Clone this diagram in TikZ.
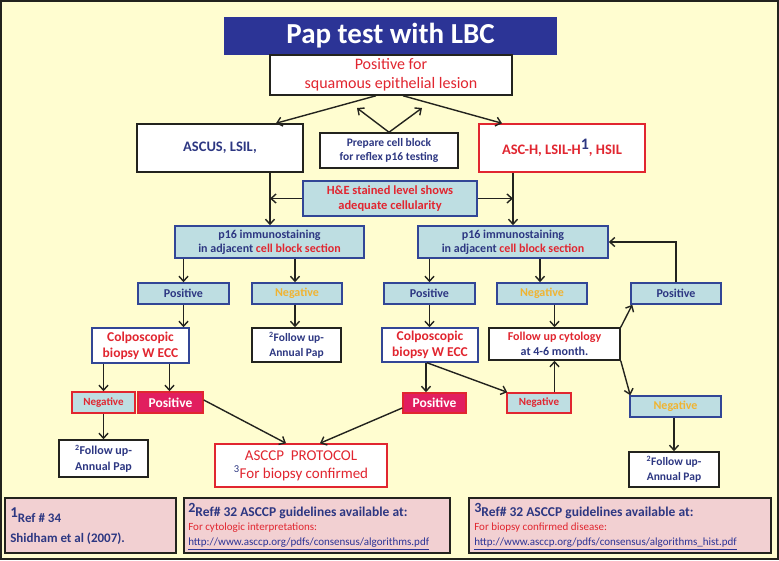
\documentclass[tikz,border=0pt]{standalone}
\usepackage{fontspec}
\setmainfont{Carlito}
\usetikzlibrary{arrows.meta,calc}
\definecolor{bg}{RGB}{255,253,208}
\definecolor{tblue}{RGB}{44,52,150}
\definecolor{dblue}{RGB}{45,55,130}
\definecolor{rred}{RGB}{225,38,48}
\definecolor{orng}{RGB}{240,180,50}
\definecolor{lblue}{RGB}{190,222,226}
\definecolor{bbord}{RGB}{50,70,150}
\definecolor{mag}{RGB}{225,30,95}
\definecolor{pinkf}{RGB}{242,208,210}
\definecolor{dline}{RGB}{35,35,30}
\newcommand\fsz[2]{\fontsize{#1}{#2}\selectfont}
\begin{document}
\begin{tikzpicture}[x=1pt,y=-1pt,
  bx/.style={rectangle, inner sep=1pt, align=center, line width=1.5pt},
  wbox/.style={bx, fill=white, draw=dline},
  rbox/.style={bx, fill=white, draw=rred},
  bwbox/.style={bx, fill=white, draw=bbord},
  lbox/.style={bx, fill=lblue, draw=bbord},
  lrbox/.style={bx, fill=lblue, draw=rred},
  mbox/.style={bx, fill=mag, draw=rred, text=white},
  refbox/.style={rectangle, fill=pinkf, draw=dline, line width=1.8pt, inner sep=0pt},
  arr/.style={draw=dline, line width=1.4pt, -{Straight Barb[length=5pt,width=9pt,line width=1.4pt]}},
  sz/.style 2 args={minimum width=#1, minimum height=#2}
]
\useasboundingbox (0,0) rectangle (779,560);
\draw[line width=2pt, draw=dline, fill=bg] (1,1) rectangle (778,559);

% title
\node[bx, fill=tblue, draw=none, sz={333}{38}, text=white, font=\bfseries\fsz{29}{30}] (title) at (390.5,36) {Pap test with LBC};
\node[wbox, sz={242}{40}, text=rred, font=\fsz{16}{19}] (pos) at (391,75) {Positive for\\squamous epithelial lesion};

\node[wbox, sz={166}{48}, text=dblue, font=\bfseries\fsz{14.5}{17}] (ascus) at (220,148) {ASCUS, LSIL,};
\node[wbox, sz={138}{35}, text=dblue, font=\bfseries\fsz{11.5}{14}] (prep) at (389,150.5) {Prepare cell block\\for reflex p16 testing};
\node[rbox, sz={166}{48}, text=rred, font=\bfseries\fsz{14.5}{17}] (asch) at (562,148) {ASC-H, LSIL-H\raisebox{5pt}{\color{dblue}\fsz{16}{16}1}, HSIL};
\node[lbox, sz={174}{35}, text=rred, font=\bfseries\fsz{12.5}{15}] (he) at (390,198.5) {H\&E stained level shows\\adequate cellularity};

\node[lbox, sz={189}{32}, text=dblue, font=\bfseries\fsz{12}{14}] (p16L) at (269.5,242) {p16 immunostaining\\in adjacent {\color{rred}cell block section}};
\node[lbox, sz={190}{32}, text=dblue, font=\bfseries\fsz{12}{14}] (p16R) at (513,242) {p16 immunostaining\\in adjacent {\color{rred}cell block section}};

\node[lbox, sz={91}{21}, text=dblue, font=\bfseries\fsz{12}{13}] (posL) at (183.5,293.5) {Positive};
\node[lbox, sz={90}{21}, text=orng, font=\bfseries\fsz{12}{13}] (negL) at (297,293.5) {Negative};
\node[lbox, sz={91}{21}, text=dblue, font=\bfseries\fsz{12}{13}] (posM) at (429.5,293.5) {Positive};
\node[lbox, sz={90}{21}, text=orng, font=\bfseries\fsz{12}{13}] (negM) at (542,293.5) {Negative};
\node[lbox, sz={90}{21}, text=dblue, font=\bfseries\fsz{12}{13}] (posR) at (676,293.5) {Positive};

\node[bwbox, sz={97}{35}, text=rred, font=\bfseries\fsz{13.5}{16}] (colpL) at (140.5,345.5) {Colposcopic\\biopsy W ECC};
\node[wbox, sz={89}{34}, text=dblue, font=\bfseries\fsz{11.5}{15}] (fuA) at (296.5,345) {\textsuperscript{2}Follow up-\\Annual Pap};
\node[bwbox, sz={96}{34}, text=rred, font=\bfseries\fsz{13.5}{16}] (colpM) at (430,345) {Colposcopic\\biopsy W ECC};
\node[wbox, sz={131}{32}, text=rred, font=\bfseries\fsz{12}{15}] (fuc) at (554.5,344) {Follow up cytology\\{\color{dblue}at 4-6 month.}};

\node[lrbox, sz={63}{21}, text=rred, font=\bfseries\fsz{11}{13}] (negC) at (103.5,402.5) {Negative};
\node[mbox, sz={65}{21}, font=\bfseries\fsz{13.5}{15}] (posC) at (170.5,402.5) {Positive};
\node[mbox, sz={63}{20}, font=\bfseries\fsz{13.5}{15}] (posMM) at (434.5,403) {Positive};
\node[lrbox, sz={64}{20}, text=rred, font=\bfseries\fsz{11}{13}] (negMM) at (539,403) {Negative};
\node[lbox, sz={91}{21}, text=orng, font=\bfseries\fsz{12}{13}] (negR) at (675.5,406.5) {Negative};

\node[wbox, sz={89}{37}, text=dblue, font=\bfseries\fsz{12}{16}] (fuB) at (103.5,458.5) {\textsuperscript{2}Follow up-\\Annual Pap};
\node[rbox, sz={172}{43}, text=rred, font=\fsz{15}{18}] (asccp) at (301,465.5) {ASCCP\ \ PROTOCOL\\\textsuperscript{\color{dblue}3}For biopsy confirmed};
\node[wbox, sz={90}{35}, text=dblue, font=\bfseries\fsz{11.5}{15}] (fuR) at (674,469.5) {\textsuperscript{2}Follow up-\\Annual Pap};

% reference boxes
\node[refbox, sz={171}{55}] (ref1) at (90.5,525.5) {};
\node[refbox, sz={266}{55}] (ref2) at (317,525.5) {};
\node[refbox, sz={302}{55}] (ref3) at (620,525.5) {};
\node[anchor=north west, inner sep=0pt, align=left, text=dblue, font=\bfseries\fsz{13}{20}] (r1t) at ([xshift=6,yshift=-10]ref1.north west) {\raisebox{5pt}{\fsz{15}{15}1}Ref \# 34\\Shidham et al (2007).};
\node[anchor=north west, inner sep=0pt, align=left, font=\fsz{11}{14.5}] (r2t) at ([xshift=5,yshift=-6]ref2.north west) {{\color{dblue}\bfseries\fsz{13.5}{16}\raisebox{4pt}{\fsz{14}{14}2}Ref\# 32 ASCCP guidelines available at:}\\{\color{rred}For cytologic interpretations:}\\{\color{tblue}\underline{http://www.asccp.org/pdfs/consensus/algorithms.pdf}}};
\node[anchor=north west, inner sep=0pt, align=left, font=\fsz{11}{14.5}] (r3t) at ([xshift=6,yshift=-6]ref3.north west) {{\color{dblue}\bfseries\fsz{13.5}{16}\raisebox{4pt}{\fsz{14}{14}3}Ref\# 32 ASCCP guidelines available at:}\\{\color{rred}For biopsy confirmed disease:}\\{\color{tblue}\underline{http://www.asccp.org/pdfs/consensus/algorithms\_hist.pdf}}};

% connectors
\coordinate (pu1) at (357,108);
\coordinate (pu2) at (422,108);
\coordinate (aL) at ([xshift=50]ascus.south);
\coordinate (aR) at ([xshift=-49]asch.south);
\draw[arr] ([xshift=-15]pos.south) -- ([xshift=56]ascus.north);
\draw[arr] ([xshift=12]pos.south) -- ([xshift=-60]asch.north);
\draw[arr] (prep.north) -- (pu1);
\draw[arr] (prep.north) -- (pu2);
\draw[arr] (aL) -- (aL |- p16L.north);
\draw[arr] (aR) -- (aR |- p16R.north);
\draw[arr] (he.west) -- (he.west -| aL);
\draw[arr] (he.east) -- (he.east -| aR);

\draw[arr] (posL.north |- p16L.south) -- (posL.north);
\draw[arr] ([xshift=-2]negL.north |- p16L.south) -- ([xshift=-2]negL.north);
\draw[arr] (posM.north |- p16R.south) -- (posM.north);
\draw[arr] ([xshift=-2]negM.north |- p16R.south) -- ([xshift=-2]negM.north);
\draw[arr] (posR.north) |- (p16R.east);

\draw[arr] (posL.south) -- (posL.south |- colpL.north);
\draw[arr] ([xshift=-2]negL.south) -- ([xshift=-2]negL.south |- fuA.north);
\draw[arr] (posM.south) -- (posM.south |- colpM.north);
\draw[arr] (fuc.north |- negM.south) -- (fuc.north);

\draw[arr] (negC.north |- colpL.south) -- (negC.north);
\draw[arr] ([xshift=-1]posC.north |- colpL.south) -- ([xshift=-1]posC.north);
\draw[arr] (negC.south) -- (negC.south |- fuB.north);
\draw[arr] ([yshift=2.5]posC.east) -- ([xshift=-15]asccp.north);
\draw[arr] ([yshift=-5]posMM.west) -- ([xshift=19]asccp.north);

\draw[arr] ([xshift=-4]colpM.south) -- ([xshift=-4]colpM.south |- posMM.north);
\draw[arr] ([xshift=-3]colpM.south) -- ([xshift=1]negMM.north west);
\draw[arr] (fuc.south |- negMM.north) -- (fuc.south);
\draw[arr] (fuc.north east) -- ([xshift=2]posR.south west);
\draw[arr] (fuc.south east) -- ([xshift=1]negR.north west);
\draw[arr] (fuR.north |- negR.south) -- (fuR.north);
\end{tikzpicture}
\end{document}
